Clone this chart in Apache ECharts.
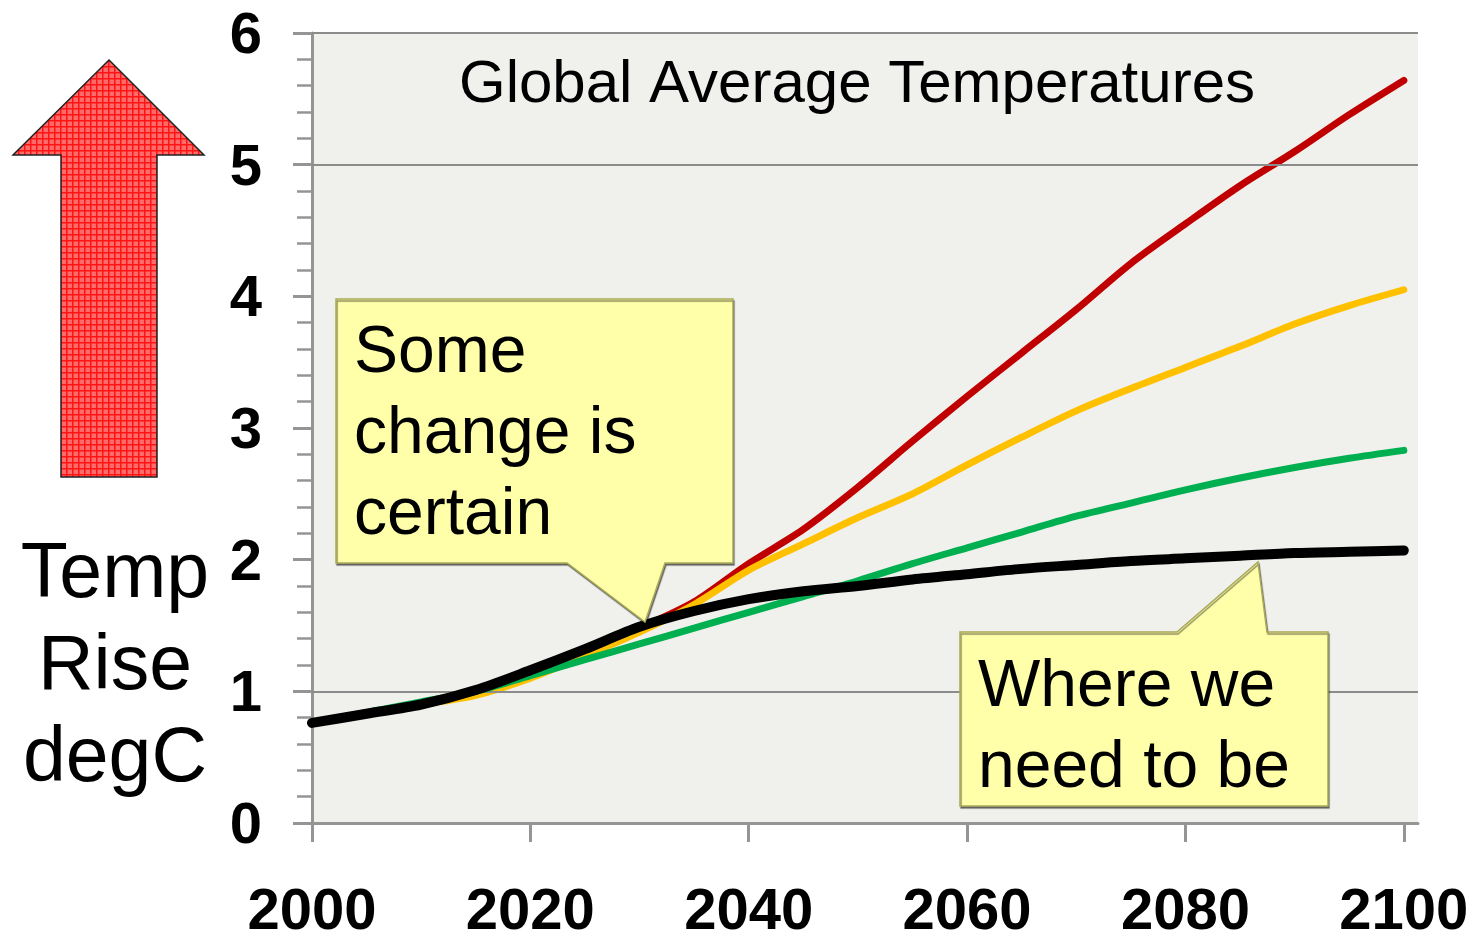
<!DOCTYPE html>
<html>
<head>
<meta charset="utf-8">
<script src="https://cdn.jsdelivr.net/npm/echarts@6/dist/echarts.min.js"></script>
<style>
html,body{margin:0;padding:0;background:#fff;}
#chart{width:1476px;height:937px;}
</style>
</head>
<body>
<div id="chart"></div>
<script>
// ---- data ----
const years = [2000,2005,2010,2015,2020,2025,2030,2035,2040,2045,2050,2055,2060,2065,2070,2075,2080,2085,2090,2095,2100];
const redValues    = [0.76,0.83,0.90,1.00,1.14,1.30,1.48,1.68,1.97,2.23,2.55,2.90,3.24,3.57,3.90,4.25,4.55,4.84,5.10,5.38,5.64];
const orangeValues = [0.76,0.83,0.90,0.97,1.10,1.27,1.45,1.66,1.92,2.12,2.32,2.50,2.72,2.93,3.13,3.30,3.46,3.62,3.79,3.93,4.05];
const greenValues  = [0.76,0.84,0.92,1.00,1.12,1.24,1.36,1.48,1.60,1.72,1.84,1.97,2.09,2.21,2.33,2.43,2.53,2.62,2.70,2.77,2.83];
const blackValues  = [0.76,0.83,0.90,1.01,1.16,1.32,1.49,1.61,1.70,1.76,1.80,1.85,1.89,1.93,1.96,1.99,2.01,2.03,2.05,2.06,2.07];
const xTickValues = [2000,2020,2040,2060,2080,2100];
const gridLineValues = [1,5,6];
const titleText = 'Global Average Temperatures';
const sideText = 'Temp\nRise\ndegC';
const note1 = 'Some\nchange is\ncertain';
const note2 = 'Where we\nneed to be';

const pair = vals => years.map((y,i) => [y, vals[i]]);

// red checkered pattern for arrow
const pc = document.createElement('canvas');
pc.width = 6; pc.height = 6;
const g = pc.getContext('2d');
g.fillStyle = '#ff6a6a'; g.fillRect(0,0,6,6);
g.fillStyle = '#ff1414'; g.fillRect(0,0,6,1.5); g.fillRect(0,0,1.5,6);

const FONT = '"Liberation Sans", Arial, sans-serif';
const axisGray = '#959595';

const chart = echarts.init(document.getElementById('chart'), null, {renderer:'canvas'});
const lineSeries = (name, vals, color, width, z) => ({
  name, type:'line', data: pair(vals), showSymbol:false, smooth:0.3,
  lineStyle:{color, width, cap:'round', join:'round'}, itemStyle:{color},
  z, silent:true, emphasis:{disabled:true}
});

const option = {
  animation:false,
  backgroundColor:'#ffffff',
  grid:{left:312, top:33, width:1106, height:790, show:true, backgroundColor:'#f0f0ec', borderWidth:0,
    containLabel:false, outerBoundsMode:'none'},
  xAxis:{
    type:'value', min:2000, max:2101.3,
    axisLine:{show:true, lineStyle:{color:axisGray, width:3}},
    axisTick:{show:true, length:19, lineStyle:{color:axisGray, width:3}, customValues:xTickValues},
    axisLabel:{show:true, customValues:xTickValues, margin:61, fontSize:58, fontWeight:'bold', color:'#000', fontFamily:FONT,
      formatter: v => String(v)},
    splitLine:{show:false}
  },
  yAxis:{
    type:'value', min:0, max:6, interval:1,
    axisLine:{show:true, lineStyle:{color:axisGray, width:3}},
    axisTick:{show:true, length:19, lineStyle:{color:axisGray, width:3}},
    minorTick:{show:true, splitNumber:5, length:15, lineStyle:{color:axisGray, width:2.5}},
    axisLabel:{margin:50, color:'#000', formatter: v => '{n|' + v + '}',
      rich:{n:{fontSize:58, fontWeight:'bold', color:'#000', fontFamily:FONT, padding:[8,0,0,0]}}},
    splitLine:{show:false}
  },
  series:[
    Object.assign(lineSeries('High', redValues, '#c00000', 7, 3), {
      markLine:{silent:true, symbol:'none', label:{show:false}, emphasis:{disabled:true},
        lineStyle:{color:'#8c8c8c', width:2, type:'solid'},
        data: gridLineValues.map(v => ({yAxis:v}))}
    }),
    lineSeries('Medium', orangeValues, '#ffc000', 7, 4),
    lineSeries('Low', greenValues, '#00b050', 7, 5),
    lineSeries('Target', blackValues, '#000000', 10, 6)
  ],
  graphic:[
    {type:'polygon', z:100, shape:{points:[[109,60],[204,155],[157,155],[157,477],[61,477],[61,155],[13,155]]},
      style:{fill:{image:pc, repeat:'repeat'}, stroke:'#222', lineWidth:1.5}},
    {type:'text', z:100, x:115, y:668, style:{text:sideText, fontSize:77, fontFamily:FONT, fill:'#000', align:'center', verticalAlign:'middle', lineHeight:92}},
    {type:'text', z:100, x:857, y:85, style:{text:titleText, fontSize:60, fontFamily:FONT, fill:'#000', align:'center', verticalAlign:'middle'}},
    {type:'polygon', z:100, shape:{points:[[336,299],[733,299],[733,563],[665,563],[645,622],[567,563],[336,563]]},
      style:{fill:'#ffffaa', stroke:'#a9a957', lineWidth:1.5, shadowColor:'rgba(0,0,0,0.45)', shadowOffsetY:2, shadowOffsetX:1, shadowBlur:1}},
    {type:'text', z:101, x:354, y:435, style:{text:note1, fontSize:66, fontFamily:FONT, fill:'#000', align:'left', verticalAlign:'middle', lineHeight:81}},
    {type:'polygon', z:100, shape:{points:[[960,632],[1177,632],[1258,562],[1267,632],[1328,632],[1328,806],[960,806]]},
      style:{fill:'#ffffaa', stroke:'#a9a957', lineWidth:1.5, shadowColor:'rgba(0,0,0,0.45)', shadowOffsetY:2, shadowOffsetX:1, shadowBlur:1}},
    {type:'text', z:101, x:978, y:728, style:{text:note2, fontSize:66, fontFamily:FONT, fill:'#000', align:'left', verticalAlign:'middle', lineHeight:81}}
  ]
};
chart.setOption(option);
</script>
</body>
</html>
